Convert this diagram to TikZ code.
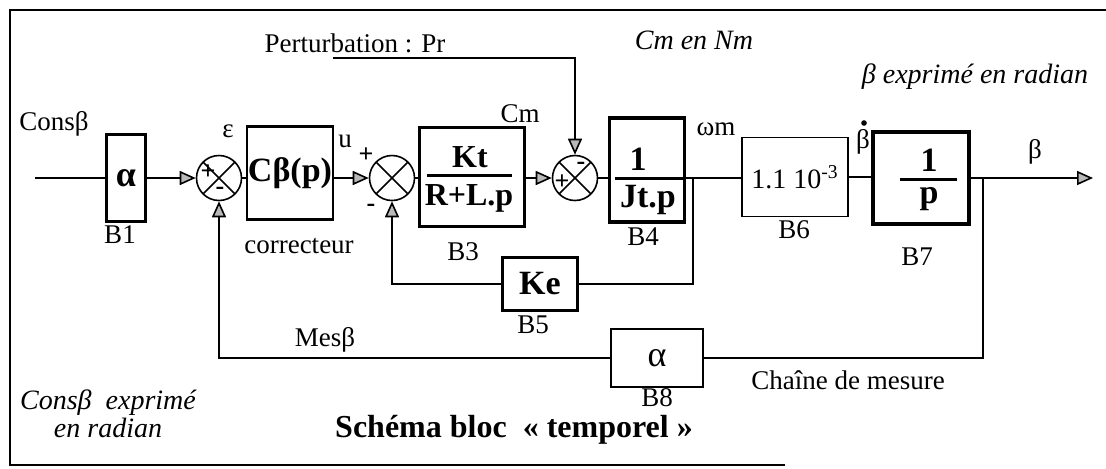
\documentclass[tikz,border=0pt]{standalone}
\usepackage{fontspec}
\setmainfont{Liberation Serif}
\usetikzlibrary{arrows.meta}

\newcommand{\tsz}[1]{\fontsize{#1}{#1}\selectfont}

\begin{document}
\begin{tikzpicture}[x=0.5pt,y=-0.5pt,
  bloc/.style={draw,line width=1.6pt,inner sep=0pt},
  blocfin/.style={draw,line width=0.8pt,inner sep=0pt},
  som/.style={draw,circle,line width=0.8pt,minimum size=22.5pt,inner sep=0pt,
    path picture={\draw[line width=0.8pt] (path picture bounding box.south west) -- (path picture bounding box.north east)
      (path picture bounding box.north west) -- (path picture bounding box.south east);}},
  lien/.style={line width=0.8pt},
  fl/.style={lien,-{Triangle[length=8pt,width=7pt,fill=gray!55]}},
  barre/.style={line width=1.5pt},
  lab/.style={font=\tsz{13.5}},
  ital/.style={font=\tsz{14}\itshape},
  signe/.style={font=\tsz{13}\bfseries,inner sep=0pt}]
\useasboundingbox (0,0) rectangle (1106,468);
\draw[lien] (1106,10) -- (10,10) -- (10,465) -- (785,465);

% chaine directe
\coordinate (e) at (35,178);
\node[bloc,minimum width=19.5pt,minimum height=43.5pt,font=\tsz{18}\bfseries] (B1) at (126,178) {α};
\node[som] (S1) at (219,178) {};
\node[bloc,line width=1.3pt,minimum width=43pt,minimum height=46.5pt,font=\tsz{17}\bfseries] (B2) at (290,173) {Cβ(p)};
\node[som] (S2) at (392,178) {};
\node[bloc,minimum width=52.5pt,minimum height=49.5pt] (B3) at (472,177) {};
\draw[barre] (427,175) -- (512,175);
\node[above,font=\tsz{16}\bfseries] (B3n) at (470,175) {Kt};
\node[below,font=\tsz{16}\bfseries] (B3d) at (469,177) {R+L.p};
\node[som] (S3) at (575,178) {};
\node[bloc,minimum width=37.5pt,minimum height=52pt] (B4) at (647,170) {};
\node[above,font=\tsz{17}\bfseries] (B4n) at (638,178) {1};
\node[below,font=\tsz{17}\bfseries] (B4d) at (648,178) {Jt.p};
\node[blocfin,minimum width=53pt,minimum height=39.5pt,font=\tsz{14}] (B6) at (795,177) {1.1 10\textsuperscript{-3}};
\node[bloc,minimum width=48pt,minimum height=46pt] (B7) at (921,178) {};
\draw[barre] (900,179) -- (957,179);
\node[above,font=\tsz{17}\bfseries] (B7n) at (929,179) {1};
\node[below,font=\tsz{17}\bfseries] (B7d) at (929,180) {p};
\coordinate (n1) at (693,178);
\coordinate (n2) at (983,178);
\coordinate (s) at (1093,178);

% retours
\node[bloc,minimum width=37.5pt,minimum height=26.5pt,font=\tsz{17}\bfseries] (B5) at (540,284) {Ke};
\node[blocfin,minimum width=46pt,minimum height=29pt,font=\tsz{18}] (B8) at (657,358) {α};
\coordinate (p) at (333,58);

\draw[lien] (e) -- (B1);
\draw[fl] (B1) -- (S1);
\draw[lien] (S1.east) -- (S1.east -| B2.west);
\draw[fl] (B2.east |- S2) -- (S2);
\draw[lien] (S2.east) -- (S2.east -| B3.west);
\draw[fl] (B3.east |- S3) -- (S3);
\draw[lien] (S3.east) -- (S3.east -| B4.west);
\draw[barre] (615,178) -- (n1 -| B4.east);
\draw[lien] (n1 -| B4.east) -- (n1) -- (n1 -| B6.west);
\draw[lien] (B6.east) -- (B6.east -| B7.west);
\draw[fl] (B7.east |- n2) -- (s);
\draw[lien] (n1) |- (B5.east);
\draw[fl] (B5.west) -| (S2.south);
\draw[lien] (n2) |- (B8.east);
\draw[fl] (B8.west) -| (S1.south);
\draw[fl] (p) -| (S3.north);

% signes
\node[signe] at (208,172) {+};
\node[signe] at (220,191) {-};
\node[signe] at (366,155) {+};
\node[signe] at (371,208) {-};
\node[signe] at (562,182) {+};
\node[signe] at (581,166) {-};

% textes
\node[lab] at (54,124) {Consβ};
\node[lab] at (120,235) {B1};
\node[lab] at (228,131) {ε};
\node[lab] at (299,246) {correcteur};
\node[lab] at (345,141) {u};
\node[lab] at (520,114) {Cm};
\node[lab] at (463,252) {B3};
\node[lab] at (355,43) {Perturbation : Pr};
\node[ital] at (694,40) {Cm en Nm};
\node[lab] at (716,129) {ωm};
\node[lab] at (643,237) {B4};
\node[lab] at (794,230) {B6};
\node[lab] (bp) at (863,142) {β};
\fill (864,123) circle (1.4pt);
\node[lab] at (917,257) {B7};
\node[lab] at (1035,152) {β};
\node[ital] at (975,77) {β exprimé en radian};
\node[lab] at (533,325) {B5};
\node[lab] at (325,340) {Mesβ};
\node[lab] at (657,398) {B8};
\node[lab] at (848,380) {Chaîne de mesure};
\node[ital,align=center] at (108,414) {Consβ~ exprimé\\en radian};
\node[font=\tsz{16}\bfseries] at (514,430) {Schéma bloc~~«~temporel~»};
\end{tikzpicture}
\end{document}
